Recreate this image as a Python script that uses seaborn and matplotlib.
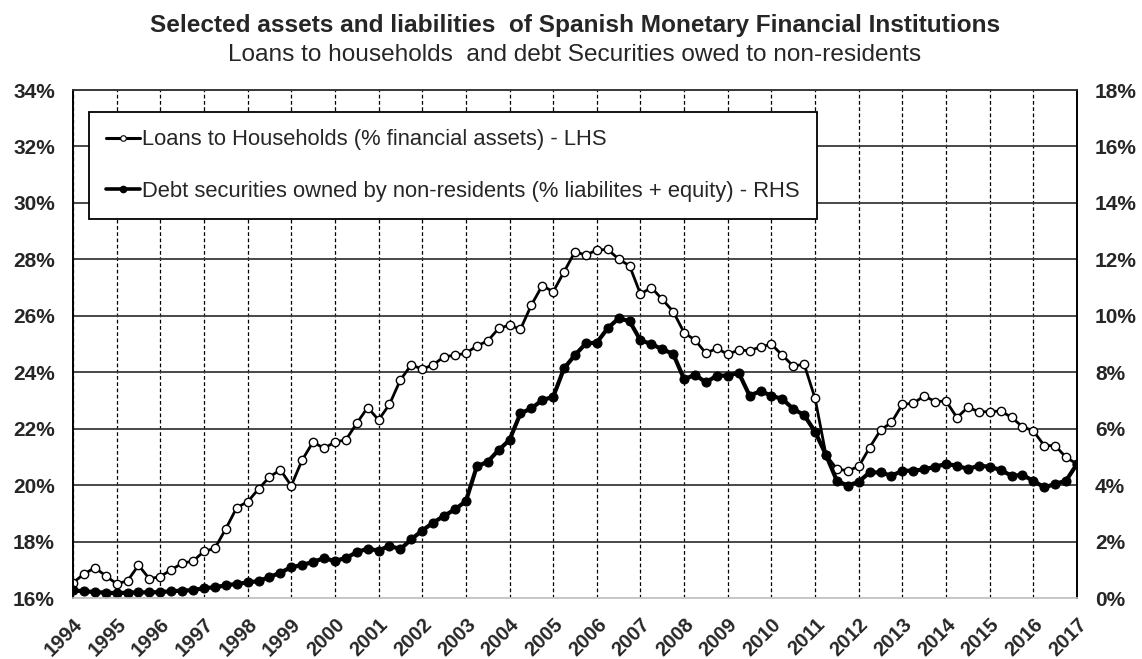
import numpy as np
import pandas as pd
import seaborn as sns
import matplotlib.pyplot as plt
from matplotlib.lines import Line2D
from matplotlib.transforms import ScaledTranslation

# quarterly data, 1994Q1 .. 2017Q1
years = list(range(1994, 2018))
quarters = [f'{y}Q{q}' for y in range(1994, 2017) for q in range(1, 5)] + ['2017Q1']

# Loans to households, % of financial assets (LHS)
loans = [16.54, 16.85, 17.07, 16.79, 16.50, 16.61, 17.16, 16.68,
         16.76, 17.00, 17.23, 17.31, 17.65, 17.76, 18.45, 19.20,
         19.41, 19.86, 20.29, 20.54, 19.98, 20.89, 21.53, 21.30,
         21.53, 21.60, 22.19, 22.75, 22.31, 22.86, 23.73, 24.26,
         24.11, 24.26, 24.55, 24.60, 24.67, 24.93, 25.11, 25.55,
         25.67, 25.52, 26.38, 27.07, 26.85, 27.56, 28.27, 28.15,
         28.33, 28.35, 28.01, 27.77, 26.77, 27.00, 26.58, 26.15,
         25.40, 25.14, 24.67, 24.85, 24.63, 24.79, 24.76, 24.90,
         24.99, 24.60, 24.22, 24.28, 23.07, 21.07, 20.57, 20.51,
         20.66, 21.33, 21.95, 22.22, 22.86, 22.90, 23.16, 22.96,
         22.98, 22.39, 22.76, 22.60, 22.60, 22.63, 22.40, 22.07,
         21.92, 21.40, 21.40, 20.98, 20.75]

# Debt securities owned by non-residents, % liabilities + equity (RHS)
debt = [0.27, 0.24, 0.21, 0.19, 0.17, 0.19, 0.20, 0.20,
        0.21, 0.24, 0.26, 0.28, 0.35, 0.38, 0.45, 0.50,
        0.55, 0.60, 0.74, 0.90, 1.09, 1.17, 1.28, 1.41,
        1.31, 1.42, 1.62, 1.75, 1.68, 1.85, 1.73, 2.08,
        2.39, 2.67, 2.91, 3.14, 3.43, 4.66, 4.83, 5.24,
        5.60, 6.54, 6.72, 7.01, 7.13, 8.14, 8.61, 9.02,
        9.05, 9.56, 9.91, 9.81, 9.13, 9.00, 8.81, 8.65,
        7.75, 7.91, 7.64, 7.88, 7.88, 7.98, 7.17, 7.33,
        7.17, 7.05, 6.70, 6.48, 5.89, 5.07, 4.15, 3.98,
        4.12, 4.45, 4.45, 4.33, 4.51, 4.51, 4.56, 4.65,
        4.75, 4.69, 4.57, 4.69, 4.65, 4.54, 4.33, 4.36,
        4.15, 3.92, 4.04, 4.16, 4.75]

labels = ['Loans to Households (% financial assets) - LHS',
          'Debt securities owned by non-residents (% liabilites + equity) - RHS']

df = pd.DataFrame({'t': np.arange(len(quarters)), 'quarter': quarters,
                   'loans': loans, 'debt': debt})

sns.set_style('white')
plt.rcParams['font.family'] = ['Liberation Sans', 'DejaVu Sans']

fig = plt.figure(figsize=(11.42, 6.59), dpi=100)
ax = fig.add_axes([73 / 1142, 61 / 659, 1004 / 1142, 508 / 659])

sns.lineplot(data=df, x='t', y='loans', ax=ax, color='black', lw=2.0,
             marker='o', markersize=6, markerfacecolor='white',
             markeredgecolor='black', markeredgewidth=1.0)

ax2 = ax.twinx()
sns.lineplot(data=df, x='t', y='debt', ax=ax2, color='black', lw=3.0,
             marker='o', markersize=6.5, markeredgecolor='black')

ax.set_xlim(0, len(quarters) - 1)
ax.set_ylim(16, 34)
ax2.set_ylim(0, 18)

ax.set_xticks([4 * i for i in range(len(years))])
ax.set_xticklabels([str(y) for y in years], rotation=45, ha='right', va='top',
                   rotation_mode='anchor', fontsize=14.5, fontweight='bold')
for lab in ax.get_xticklabels():
    lab.set_transform(lab.get_transform() + ScaledTranslation(0.03, 0, fig.dpi_scale_trans))

lt = np.arange(16, 35, 2)
ax.set_yticks(lt)
ax.set_yticklabels([f'{v}%' for v in lt], fontsize=15, fontweight='bold')
rt = np.arange(0, 19, 2)
ax2.set_yticks(rt)
ax2.set_yticklabels([f'{v}%' for v in rt], fontsize=15, fontweight='bold')

ax.tick_params(axis='y', length=0, pad=13)
ax.tick_params(axis='x', length=0, pad=12)
ax2.tick_params(axis='y', length=0, pad=13)

ax.set_xlabel('')
ax.set_ylabel('')
ax2.set_ylabel('')

ax.yaxis.grid(True, color='#3a3a3a', lw=1.3, ls='-')
ax.xaxis.grid(True, color='black', lw=0.9, ls=(0, (3, 2)))
ax.set_axisbelow(True)
ax2.grid(False)

for a in (ax, ax2):
    for s in a.spines.values():
        s.set_color('black')
        s.set_linewidth(1.2)
    a.spines['top'].set_color('#3a3a3a')
    a.spines['bottom'].set_color('#c8c8c8')

handles = [Line2D([], [], color='black', lw=2.2, marker='o', ms=4,
                  mfc='white', mec='black', mew=0.8),
           Line2D([], [], color='black', lw=2.6, marker='o', ms=4.5, mec='black')]
leg = ax2.legend(handles, labels, loc='upper left', bbox_to_anchor=(0.0162, 0.956),
                 frameon=True, fancybox=False, edgecolor='black', framealpha=1,
                 fontsize=15.8, handlelength=1.55, handletextpad=0.08,
                 labelspacing=1.38, borderpad=0.78, borderaxespad=0)
leg.get_frame().set_linewidth(1.3)

fig.text(0.5035, 0.962, 'Selected assets and liabilities  of Spanish Monetary Financial Institutions',
         ha='center', va='center', fontsize=17.6, fontweight='bold')
fig.text(0.5035, 0.917, 'Loans to households  and debt Securities owed to non-residents',
         ha='center', va='center', fontsize=17.6)

fig.savefig('out.png', dpi=100)
